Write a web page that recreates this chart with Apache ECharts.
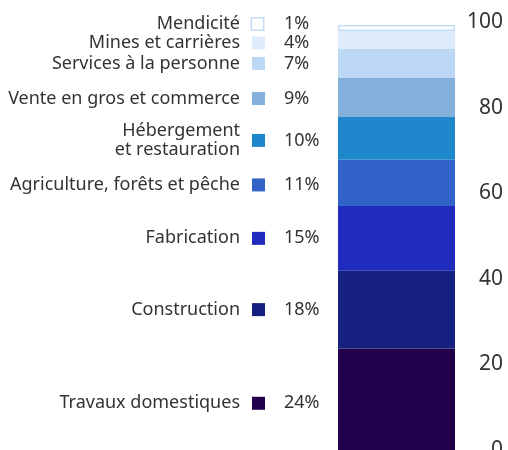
<!DOCTYPE html>
<html>
<head>
<meta charset="utf-8">
<script src="https://cdn.jsdelivr.net/npm/echarts@6/dist/echarts.min.js"></script>
<style>
  html, body { margin: 0; padding: 0; background: #fff; }
  #chart { width: 508px; height: 450px; }
</style>
</head>
<body>
<div id="chart"></div>
<script>
// secteurs, du bas vers le haut de la barre
var categories = ['Travaux domestiques', 'Construction', 'Fabrication', 'Agriculture, forêts et pêche',
    'Hébergement\net restauration', 'Vente en gros et commerce', 'Services à la personne',
    'Mines et carrières', 'Mendicité'];
var values = [23.7, 18.2, 15.1, 10.8, 10.0, 9.1, 6.8, 4.2, 1.4];
var yTicks = [0, 20, 40, 60, 80, 100];

var colors = ['#23004c', '#162080', '#1f2bbd', '#3163c8', '#1f88cc', '#84b0dc', '#bcd8f5', '#deebfa', '#ffffff'];
// petit décalage vertical des étiquettes (px) pour éviter les chevauchements
var labelShift = [4, 0, 0, 2, 2, 1, 0, 3, -4];

var dom = document.getElementById('chart');
var myChart = echarts.init(dom);
var font = 'Noto Sans';

var series = [];
// barres visibles + carré + pourcentage
categories.forEach(function (name, i) {
    var isWhite = colors[i] === '#ffffff';
    series.push({
        name: name,
        type: 'bar',
        stack: 'a',
        barWidth: 117,
        barGap: '-100%',
        silent: true,
        itemStyle: {
            color: colors[i],
            borderColor: isWhite ? '#c6ddf6' : colors[i],
            borderWidth: isWhite ? 1.5 : 0
        },
        label: {
            show: true,
            position: 'left',
            align: 'left',
            distance: 86,
            offset: [0, labelShift[i]],
            formatter: function (p) {
                return '{box|}{pct|' + Math.round(p.value) + '%}';
            },
            rich: {
                box: {
                    width: isWhite ? 11 : 13,
                    height: isWhite ? 11 : 13,
                    backgroundColor: colors[i],
                    borderColor: isWhite ? '#c6ddf6' : colors[i],
                    borderWidth: isWhite ? 1.5 : 0
                },
                pct: {
                    fontFamily: font,
                    fontSize: 18,
                    color: '#333',
                    padding: [0, 0, 0, isWhite ? 21 : 19]
                }
            }
        },
        data: [values[i]]
    });
});
// barres transparentes superposées pour les noms
categories.forEach(function (name, i) {
    series.push({
        name: name + '_nom',
        type: 'bar',
        stack: 'b',
        barWidth: 117,
        barGap: '-100%',
        silent: true,
        itemStyle: { color: 'rgba(0,0,0,0)' },
        label: {
            show: true,
            position: 'left',
            distance: 98,
            offset: [0, labelShift[i]],
            fontFamily: font,
            fontSize: 18,
            lineHeight: 19,
            color: '#333',
            align: 'right',
            formatter: name
        },
        data: [values[i]]
    });
});

myChart.setOption({
    animation: false,
    grid: {
        left: 338,
        right: 53,
        top: 22,
        bottom: 0,
        outerBoundsMode: 'none'
    },
    xAxis: {
        type: 'category',
        data: [''],
        axisLine: { show: false },
        axisTick: { show: false },
        axisLabel: { show: false }
    },
    yAxis: {
        type: 'value',
        position: 'right',
        min: yTicks[0],
        max: yTicks[yTicks.length - 1],
        interval: 20,
        splitLine: { show: false },
        axisLine: { show: false },
        axisTick: { show: false },
        axisLabel: {
            align: 'right',
            margin: 48,
            fontFamily: font,
            fontSize: 21,
            color: '#333'
        }
    },
    series: series
});
window.addEventListener('resize', function () {
    myChart.resize();
});
</script>
</body>
</html>
